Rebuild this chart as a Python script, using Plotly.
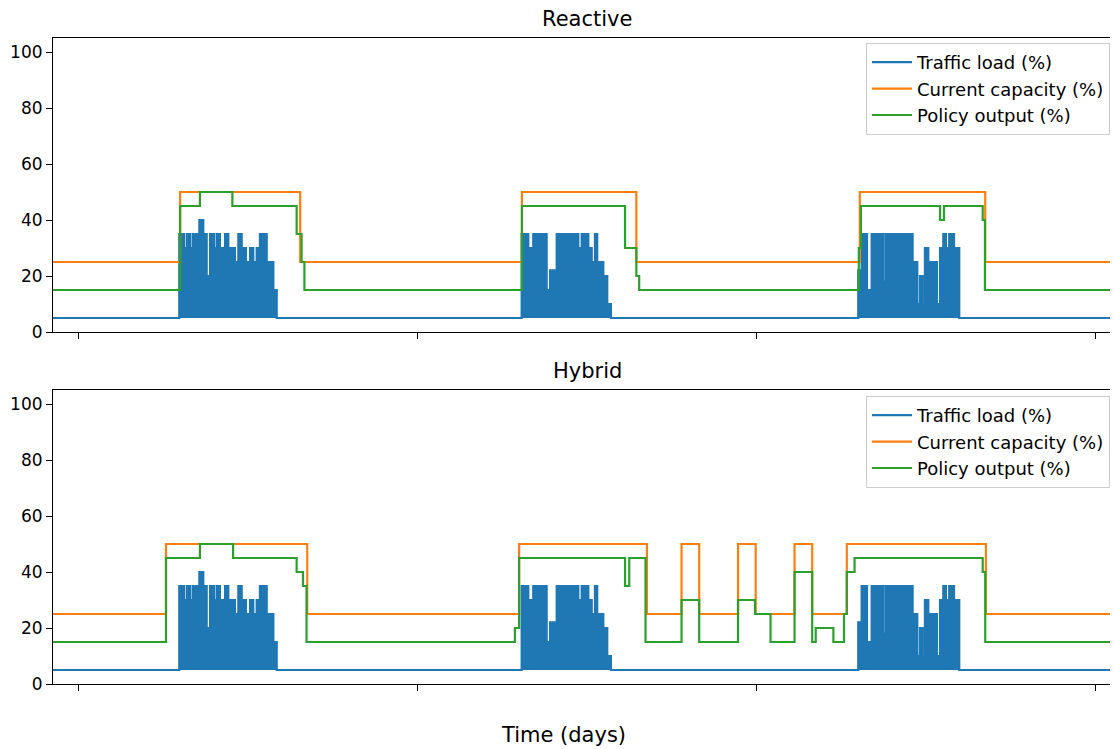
import plotly.graph_objects as go

# ---------------- data (time in hours from start of record) ----------------
T_END = 75.4
TRAFFIC_BASE = 5

# traffic load envelope (change points, step-wise), same in both panels
TRAFFIC_T = [0,
             8.94, 9.27, 9.47, 9.70, 9.89, 10.36, 10.64, 10.88, 11.12, 11.40, 11.59,
             11.82, 12.18, 12.41, 12.88, 13.12, 13.36, 13.66, 13.95, 14.18, 14.42,
             14.65, 15.13, 15.60, 15.84,
             33.18, 33.65, 34.00, 34.95, 35.19, 35.66, 36.04, 36.14, 37.19, 37.43,
             37.90, 38.14, 38.37, 38.53, 38.96, 39.24, 39.50,
             57.01, 57.25, 57.63, 57.96, 58.78, 58.95, 60.44, 60.57, 60.86, 61.19,
             61.38, 61.57, 61.73, 61.97, 62.09, 62.58, 62.80, 63.03, 63.22, 63.45,
             63.79, 64.16]
TRAFFIC_V = [5,
             35, 30, 35, 30, 35, 40, 35, 20, 35, 30, 35,
             30, 35, 30, 25, 35, 30, 25, 30, 25, 30,
             35, 25, 15, 5,
             35, 30, 35, 15, 22, 35, 28, 35, 30, 35,
             30, 25, 35, 25, 20, 10, 5,
             22, 35, 15, 35, 18, 35, 18, 35, 25, 10,
             20, 10, 30, 10, 25, 10, 30, 35, 30, 35,
             30, 5]

# Reactive policy
REACTIVE_CAP_T = [0, 9.0, 17.5, 33.2, 41.3, 57.12, 66.0]
REACTIVE_CAP_V = [25, 50, 25, 50, 25, 50, 25]
REACTIVE_POL_T = [0, 9.0, 10.4, 12.7, 17.25, 17.6, 17.8, 33.2, 40.5, 41.3, 41.5,
                  57.05, 57.2, 62.8, 63.08, 65.82, 65.98]
REACTIVE_POL_V = [15, 45, 50, 45, 35, 25, 15, 45, 30, 20, 15,
                  30, 45, 40, 45, 40, 15]

# Hybrid policy
HYBRID_CAP_T = [0, 8.0, 18.0, 33.0, 42.05, 44.5, 45.75, 48.5, 49.75, 52.5, 53.75,
                56.2, 66.05]
HYBRID_CAP_V = [25, 50, 25, 50, 25, 50, 25, 50, 25, 50, 25, 50, 25]
HYBRID_POL_T = [0, 8.0, 10.4, 12.75, 17.25, 17.7, 17.95, 32.7, 33.0, 40.5, 40.8,
                41.95, 44.5, 45.75, 48.5, 49.7, 50.8, 52.5, 53.75, 54.0, 55.25,
                56.0, 56.2, 56.75, 65.82, 66.0]
HYBRID_POL_V = [15, 45, 50, 45, 40, 35, 15, 20, 45, 35, 45,
                15, 30, 15, 30, 25, 15, 40, 15, 20, 15,
                25, 40, 45, 40, 15]

DAY_TICKS = [1.84, 25.84, 49.84, 73.84]
Y_TICKS = [0, 20, 40, 60, 80, 100]
PANEL_TITLES = ["Reactive", "Hybrid"]
SERIES_NAMES = ["Traffic load (%)", "Current capacity (%)", "Policy output (%)"]
COLORS = ["#1f77b4", "#ff7f0e", "#2ca02c"]

FONT = "DejaVu Sans"
# the page body adds an 8 px offset; the figure is sized to fill the rest of the window
OFF = 8
W, H = 1118 - OFF, 749 - OFF


def ext(t, v):
    return list(t) + [T_END], list(v) + [v[-1]]


def fx(px):
    return (px - OFF) / W


def fy(py):
    return 1 - (py - OFF) / H


fig = go.Figure()

panels = [
    (REACTIVE_CAP_T, REACTIVE_CAP_V, REACTIVE_POL_T, REACTIVE_POL_V, "x", "y", "legend"),
    (HYBRID_CAP_T, HYBRID_CAP_V, HYBRID_POL_T, HYBRID_POL_V, "x2", "y2", "legend2"),
]

LW = 2.2
for cap_t, cap_v, pol_t, pol_v, xa, ya, lg in panels:
    tx, tv = ext(TRAFFIC_T, TRAFFIC_V)
    fig.add_trace(go.Scatter(x=tx, y=tv, mode="lines", name=SERIES_NAMES[0],
                             line=dict(color=COLORS[0], width=LW, shape="hv"),
                             legend=lg, legendgroup=lg + "a", xaxis=xa, yaxis=ya))
    # dense traffic signal: area between its base level and its peaks
    fig.add_trace(go.Scatter(x=[0, T_END], y=[TRAFFIC_BASE, TRAFFIC_BASE], mode="lines",
                             line=dict(width=0, color=COLORS[0]), showlegend=False,
                             fill="tonexty", fillcolor=COLORS[0],
                             hoverinfo="skip", xaxis=xa, yaxis=ya))
    cx, cv = ext(cap_t, cap_v)
    fig.add_trace(go.Scatter(x=cx, y=cv, mode="lines", name=SERIES_NAMES[1],
                             line=dict(color=COLORS[1], width=LW, shape="hv"),
                             legend=lg, legendgroup=lg + "b", xaxis=xa, yaxis=ya))
    px_, pv = ext(pol_t, pol_v)
    fig.add_trace(go.Scatter(x=px_, y=pv, mode="lines", name=SERIES_NAMES[2],
                             line=dict(color=COLORS[2], width=LW, shape="hv"),
                             legend=lg, legendgroup=lg + "c", xaxis=xa, yaxis=ya))

x_dom = [fx(53), 1.0]
top_dom = [fy(332), fy(38)]
bot_dom = [fy(684), fy(390)]

xcommon = dict(range=[0, T_END], domain=x_dom, showline=True, linecolor="black",
               linewidth=1.1, mirror=True, ticks="outside", ticklen=6, tickwidth=1.1,
               tickcolor="black", tickvals=DAY_TICKS, showticklabels=False,
               showgrid=False, zeroline=False, automargin=False)
ycommon = dict(range=[0, 105], showline=True, linecolor="black", linewidth=1.1,
               mirror=False, ticks="outside", ticklen=6, tickwidth=1.1,
               tickcolor="black", tickvals=Y_TICKS,
               tickfont=dict(family=FONT, size=17, color="black"),
               showgrid=False, zeroline=False, automargin=False)

leg_common = dict(xanchor="right", x=fx(1110), yanchor="top",
                  bgcolor="rgba(255,255,255,0.8)", bordercolor="#cccccc", borderwidth=1,
                  font=dict(family=FONT, size=18, color="black"),
                  tracegroupgap=0, traceorder="grouped", itemwidth=40)

fig.update_layout(
    width=W, height=H,
    margin=dict(l=0, r=0, t=0, b=0),
    paper_bgcolor="white", plot_bgcolor="white",
    font=dict(family=FONT, color="black"),
    xaxis=dict(xcommon, anchor="y"),
    yaxis=dict(ycommon, domain=top_dom, anchor="x"),
    xaxis2=dict(xcommon, anchor="y2", matches="x"),
    yaxis2=dict(ycommon, domain=bot_dom, anchor="x2"),
    legend=dict(leg_common, y=fy(43)),
    legend2=dict(leg_common, y=fy(396)),
    annotations=[
        dict(text=PANEL_TITLES[0], x=fx(587), y=fy(19), xref="paper", yref="paper",
             showarrow=False, xanchor="center", yanchor="middle",
             font=dict(family=FONT, size=21, color="black")),
        dict(text=PANEL_TITLES[1], x=fx(587), y=fy(371), xref="paper", yref="paper",
             showarrow=False, xanchor="center", yanchor="middle",
             font=dict(family=FONT, size=21, color="black")),
        dict(text="Time (days)", x=fx(563), y=fy(735), xref="paper", yref="paper",
             showarrow=False, xanchor="center", yanchor="middle",
             font=dict(family=FONT, size=21, color="black")),
    ],
)

fig.write_html("out.html")
